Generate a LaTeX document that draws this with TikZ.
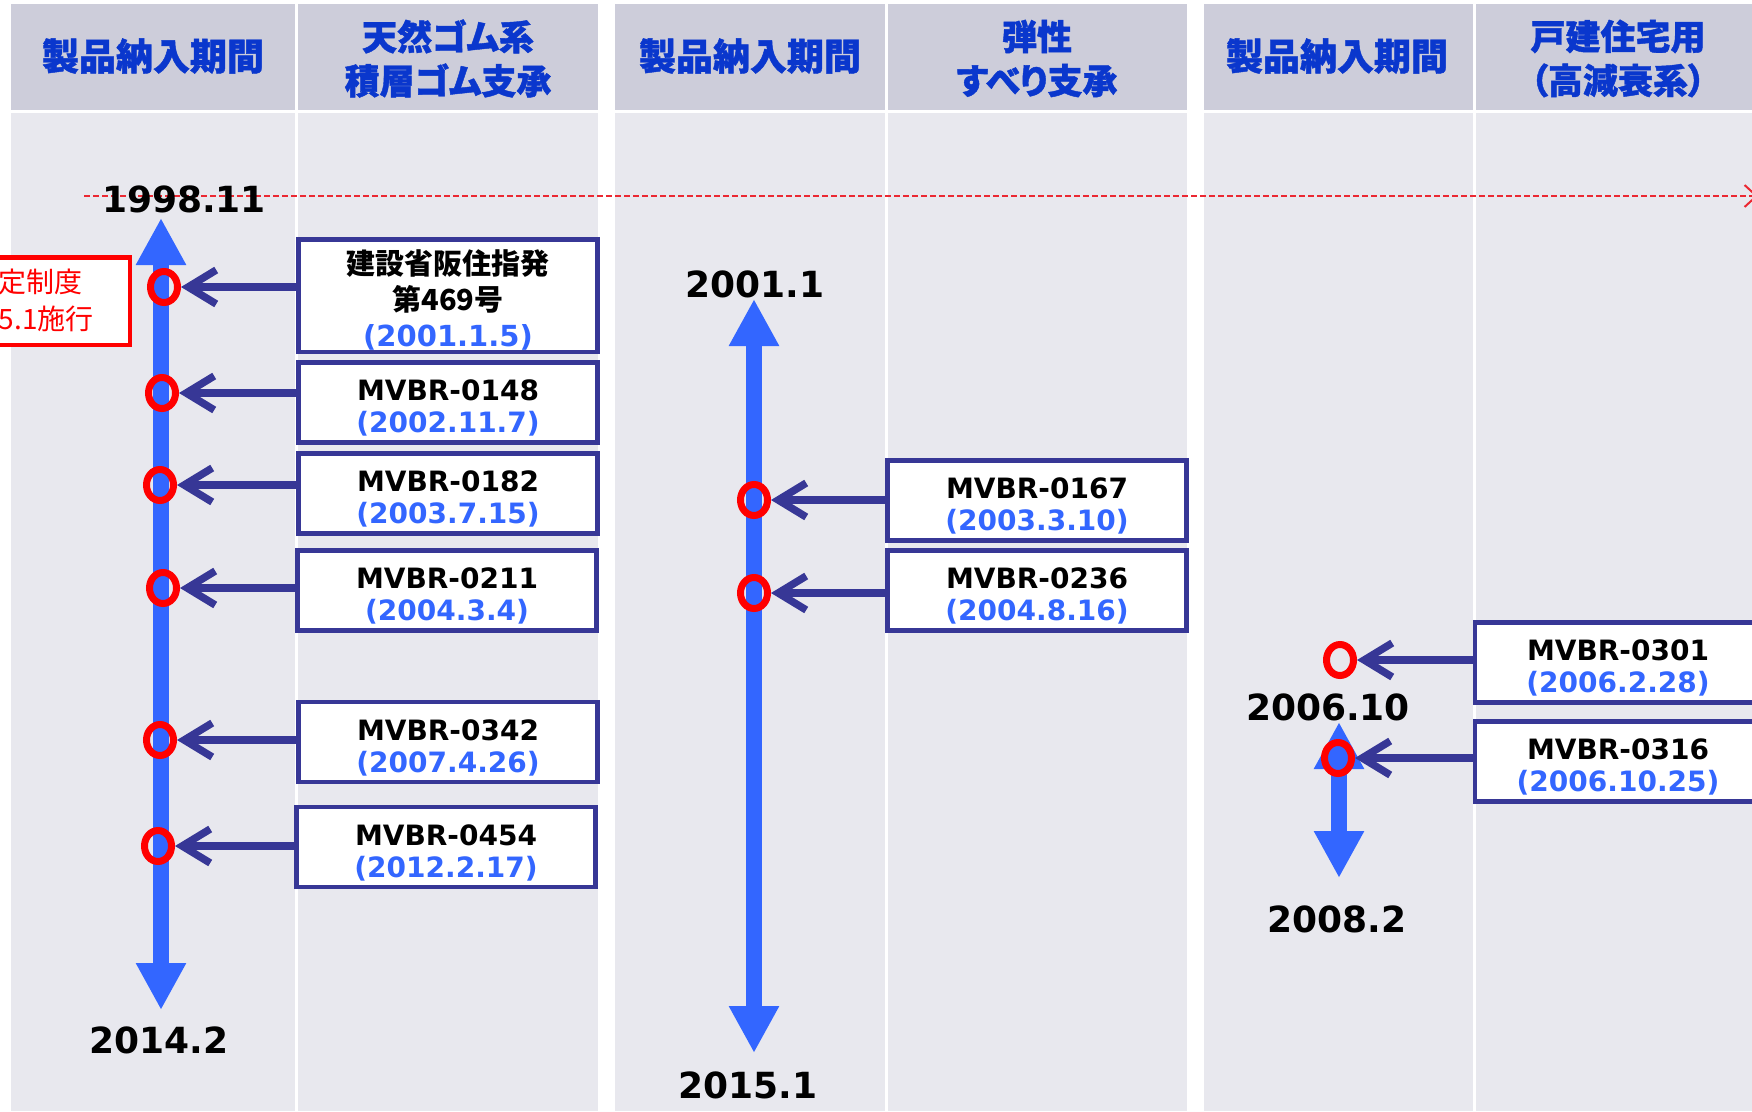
\documentclass[tikz,border=0pt]{standalone}
\usepackage{fontspec}
\setmainfont{DejaVu Sans}
\newfontfamily\cjk[RawFeature=+palt]{Noto Sans CJK JP}
\newfontfamily\cjkh[RawFeature=+palt,BoldFeatures={FakeBold=1.2}]{Noto Sans CJK JP}
\usetikzlibrary{arrows.meta,calc,shapes.geometric}
\definecolor{hdrbg}{RGB}{205,205,218}
\definecolor{bodybg}{RGB}{232,232,238}
\definecolor{navy}{RGB}{55,55,150}
\definecolor{tlblue}{RGB}{51,102,255}
\definecolor{hdrtext}{RGB}{10,55,205}
\definecolor{dashred}{RGB}{235,40,50}
\begin{document}
\begin{tikzpicture}[x=1pt,y=-1pt,
  hdrtxt/.style={text=hdrtext,font=\cjkh\bfseries\fontsize{35pt}{44pt}\selectfont,align=center,inner sep=0pt},
  hdrtxtb/.style={hdrtxt,font=\cjkh\bfseries\fontsize{37pt}{44pt}\selectfont},
  year/.style={font=\bfseries\fontsize{36pt}{40pt}\selectfont,anchor=base,inner sep=0pt},
  ibox/.style={draw=navy,line width=4.5pt,fill=white,minimum width=299pt,minimum height=80pt,
     align=center,font=\bfseries\fontsize{28pt}{32pt}\selectfont,text height=60pt,text depth=0pt,inner sep=0pt},
  tl/.style={draw=tlblue,line width=16pt,{Triangle[length=47pt,width=47pt]}-{Triangle[length=47pt,width=47pt]}},
  conn/.style={draw=navy,line width=7.5pt,-{Straight Barb[length=28pt,width=34pt]}},
  ring/.style={draw=red,line width=7pt,ellipse,minimum width=27pt,minimum height=31pt,inner sep=0pt},
  dashline/.style={draw=dashred,line width=2pt,dash pattern=on 6pt off 3pt,-{Straight Barb[length=12pt,width=22pt]}},
  redtxt/.style={text=red,font=\cjk\fontsize{28pt}{37pt}\selectfont,inner sep=0pt,anchor=base west}
]
\useasboundingbox (0,0) rectangle (1752,1111);
\fill[white] (0,0) rectangle (1752,1111);
% column backgrounds
\fill[hdrbg] (11,4) rectangle (295,109.5);
\fill[hdrbg] (298,4) rectangle (598,109.5);
\fill[hdrbg] (615,4) rectangle (885,109.5);
\fill[hdrbg] (888,4) rectangle (1187,109.5);
\fill[hdrbg] (1204,4) rectangle (1473,109.5);
\fill[hdrbg] (1476,4) rectangle (1770,109.5);
\fill[bodybg] (11,113) rectangle (295,1111);
\fill[bodybg] (298,113) rectangle (598,1111);
\fill[bodybg] (615,113) rectangle (885,1111);
\fill[bodybg] (888,113) rectangle (1187,1111);
\fill[bodybg] (1204,113) rectangle (1473,1111);
\fill[bodybg] (1476,113) rectangle (1770,1111);
% headers
\node[hdrtxtb] (h1) at (153,56) {製品納入期間};
\node[hdrtxt] (h2) at (448,58.5) {天然ゴム系\\積層ゴム支承};
\node[hdrtxtb] (h3) at (750,56) {製品納入期間};
\node[hdrtxt] (h4) at (1037,58.5) {弾性\\すべり支承};
\node[hdrtxtb] (h5) at (1337,56) {製品納入期間};
\node[hdrtxt] (h6) at (1618,58.5) {戸建住宅用\\（高減衰系）};
% dashed reference line
\coordinate (dstart) at (84,196);
\coordinate (dend) at (1758,196);
\draw[dashline] (dstart) -- (dend);
% red box
\node[draw=red,fill=white,line width=4.5pt,minimum width=187.5pt,minimum height=87.5pt,inner sep=0pt] (rb) at (36,301) {};
\node[redtxt] (r1) at (-1.5,292) {定制度};
\node[redtxt] (r2) at (-1.5,329) {5.1施行};
% timelines
\coordinate (t1a) at (161,218);
\coordinate (t1b) at (161,1010);
\coordinate (t3a) at (754,299);
\coordinate (t3b) at (754,1053);
\coordinate (t5a) at (1339,722);
\coordinate (t5b) at (1339,878);
\draw[tl] (t1a) -- (t1b);
\draw[tl] (t3a) -- (t3b);
\draw[tl] (t5a) -- (t5b);
% year labels
\node[year] (y1) at (184,212) {1998.11};
\node[year] (y2) at (159,1053) {2014.2};
\node[year] (y3) at (755,297) {2001.1};
\node[year] (y4) at (748,1098) {2015.1};
\node[year] (y5) at (1328,720) {2006.10};
\node[year] (y6) at (1337,932) {2008.2};
% boxes
\node[ibox,minimum height=112.5pt,text height=101pt,text depth=0pt,font=\bfseries\fontsize{29pt}{36pt}\selectfont] (b1) at (448,295.5)
  {{\cjk 建設省阪住指発}\\{\cjk 第469号}\\\textcolor{tlblue}{(2001.1.5)}};
\node[ibox] (b2) at (448,402.5) {MVBR-0148\\\textcolor{tlblue}{(2002.11.7)}};
\node[ibox] (b3) at (448,493.5) {MVBR-0182\\\textcolor{tlblue}{(2003.7.15)}};
\node[ibox] (b4) at (447,590.5) {MVBR-0211\\\textcolor{tlblue}{(2004.3.4)}};
\node[ibox] (b5) at (448,742) {MVBR-0342\\\textcolor{tlblue}{(2007.4.26)}};
\node[ibox] (b6) at (446,847) {MVBR-0454\\\textcolor{tlblue}{(2012.2.17)}};
\node[ibox] (b7) at (1037,500.5) {MVBR-0167\\\textcolor{tlblue}{(2003.3.10)}};
\node[ibox] (b8) at (1037,590.5) {MVBR-0236\\\textcolor{tlblue}{(2004.8.16)}};
\node[ibox,minimum width=286pt] (b9) at (1618,662.5) {MVBR-0301\\\textcolor{tlblue}{(2006.2.28)}};
\node[ibox,minimum width=286pt] (b10) at (1618,761.5) {MVBR-0316\\\textcolor{tlblue}{(2006.10.25)}};
% rings
\node[ring] (c1) at (164,287) {};
\node[ring] (c2) at (162,393) {};
\node[ring] (c3) at (160,485) {};
\node[ring] (c4) at (163,588) {};
\node[ring] (c5) at (160,740) {};
\node[ring] (c6) at (158,846) {};
\node[ring] (c7) at (754,500) {};
\node[ring] (c8) at (754,593) {};
\node[ring] (c9) at (1340,660) {};
\node[ring] (c10) at (1338,758) {};
% connectors
\draw[conn] (b1.west |- c1) -- (c1.east);
\draw[conn] (b2.west |- c2) -- (c2.east);
\draw[conn] (b3.west |- c3) -- (c3.east);
\draw[conn] (b4.west |- c4) -- (c4.east);
\draw[conn] (b5.west |- c5) -- (c5.east);
\draw[conn] (b6.west |- c6) -- (c6.east);
\draw[conn] (b7.west |- c7) -- (c7.east);
\draw[conn] (b8.west |- c8) -- (c8.east);
\draw[conn] (b9.west |- c9) -- (c9.east);
\draw[conn] (b10.west |- c10) -- (c10.east);
\end{tikzpicture}
\end{document}
